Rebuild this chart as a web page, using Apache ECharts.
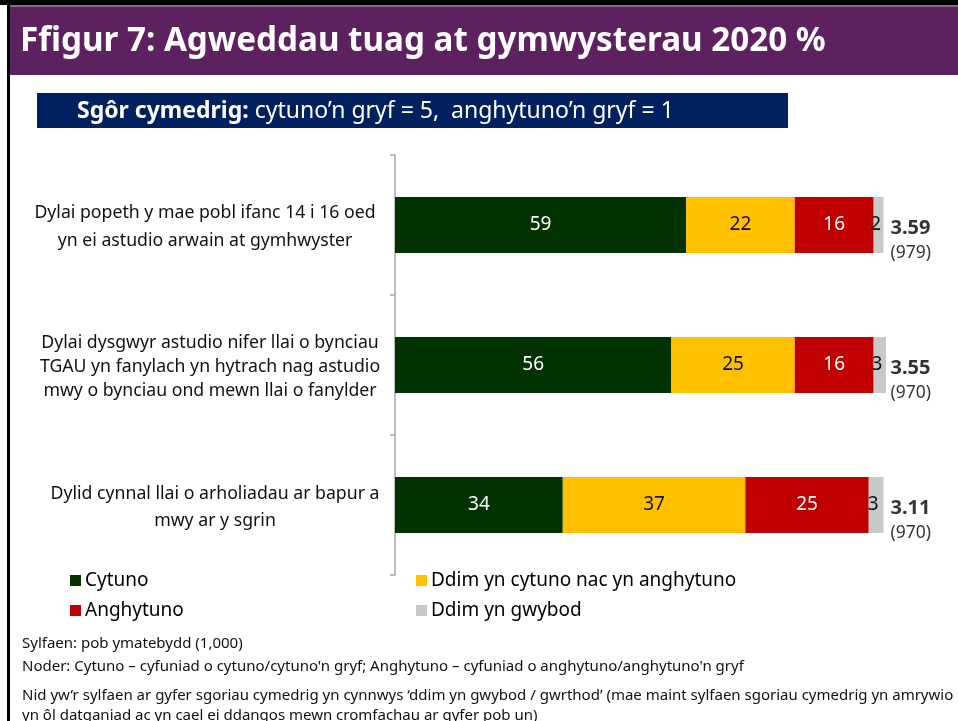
<!DOCTYPE html>
<html>
<head>
<meta charset="utf-8">
<script src="https://cdn.jsdelivr.net/npm/echarts@6/dist/echarts.min.js"></script>
<style>html,body{margin:0;padding:0;background:#fff}#c{width:958px;height:721px}</style>
</head>
<body>
<div id="c"></div>
<script>
var categories = [
  "Dylai popeth y mae pobl ifanc 14 i 16 oed\nyn ei astudio arwain at gymhwyster",
  "Dylai dysgwyr astudio nifer llai o bynciau\nTGAU yn fanylach yn hytrach nag astudio\nmwy o bynciau ond mewn llai o fanylder",
  "Dylid cynnal llai o arholiadau ar bapur a\nmwy ar y sgrin"
];
var seriesNames = ["Cytuno", "Ddim yn cytuno nac yn anghytuno", "Anghytuno", "Ddim yn gwybod"];
var cytuno = [59, 56, 34];
var ddimCytunoNacAnghytuno = [22, 25, 37];
var anghytuno = [16, 16, 25];
var ddimGwybod = [2, 3, 3];
var meanScores = ["3.59", "3.55", "3.11"];
var baseSizes = ["(979)", "(970)", "(970)"];
var colors = ["#033303", "#FFC000", "#C00000", "#C9C9C9"];
var labelColors = ["#ffffff", "#111111", "#ffffff", "#111111"];
var title = "Ffigur 7: Agweddau tuag at gymwysterau 2020 %";
var footnotes = [
  "Sylfaen: pob ymatebydd (1,000)",
  "Noder: Cytuno \u2013 cyfuniad o cytuno/cytuno'n gryf; Anghytuno \u2013 cyfuniad o anghytuno/anghytuno'n gryf",
  "Nid yw\u2019r sylfaen ar gyfer sgoriau cymedrig yn cynnwys \u2018ddim yn gwybod / gwrthod\u2019 (mae maint sylfaen sgoriau cymedrig yn amrywio",
  "yn \u00f4l datganiad ac yn cael ei ddangos mewn cromfachau ar gyfer pob un)"
];
var X_MAX = 99.5;

var FONT = "'Noto Sans', 'Open Sans', sans-serif";
var chart = echarts.init(document.getElementById('c'), null, {renderer: 'canvas'});
var values = [cytuno, ddimCytunoNacAnghytuno, anghytuno, ddimGwybod];

var series = seriesNames.map(function (name, i) {
  return {
    name: name,
    type: 'bar',
    stack: 'total',
    barWidth: '40%',
    itemStyle: {color: colors[i]},
    label: {
      show: true,
      position: 'inside',
      offset: i === 3 ? [-3, 0] : [0, 0],
      color: labelColors[i],
      fontSize: 19,
      fontFamily: FONT,
      formatter: '{c}'
    },
    data: values[i]
  };
});
series.push({
  name: 'mean',
  type: 'scatter',
  symbolSize: 1,
  clip: false,
  itemStyle: {color: 'rgba(0,0,0,0)'},
  silent: true,
  label: {
    show: true,
    position: 'right',
    distance: 4,
    offset: [0, 15],
    align: 'left',
    fontFamily: FONT,
    formatter: function (p) {
      return '{a|' + meanScores[p.dataIndex] + '}\n{b|' + baseSizes[p.dataIndex] + '}';
    },
    rich: {
      a: {fontSize: 20, fontWeight: 'bold', color: '#000', fontFamily: FONT, lineHeight: 26},
      b: {fontSize: 17.5, color: '#000', fontFamily: FONT, lineHeight: 24}
    }
  },
  data: categories.map(function (c, i) { return [X_MAX, i]; })
});

var legendPos = [[65, 566], [411, 566], [65, 596], [411, 596]];
var legends = seriesNames.map(function (n, i) {
  return {
    data: [n],
    left: legendPos[i][0],
    top: legendPos[i][1],
    icon: 'rect',
    itemWidth: 11,
    itemHeight: 11,
    itemGap: 0,
    selectedMode: false,
    textStyle: {fontSize: 19, color: '#000', fontFamily: FONT, padding: [0, 0, 0, -1]}
  };
});

var graphics = [
  {type: 'rect', shape: {x: 0, y: 0, width: 958, height: 5}, style: {fill: '#000'}},
  {type: 'rect', shape: {x: 7, y: 0, width: 3, height: 721}, style: {fill: '#000'}},
  {type: 'rect', shape: {x: 10, y: 5, width: 948, height: 70}, style: {fill: '#5E2160'}},
  {type: 'rect', shape: {x: 10, y: 5, width: 948, height: 2}, style: {fill: '#8A6A8C'}},
  {type: 'text', x: 20, y: 42, style: {text: title, fill: '#fff', font: "bold 33.2px " + FONT, textVerticalAlign: 'middle'}},
  {type: 'rect', shape: {x: 37, y: 93, width: 751, height: 35}, style: {fill: '#002060'}},
  {type: 'text', x: 77, y: 111, style: {
    text: '{b|Sg\u00f4r cymedrig:}{r| cytuno\u2019n gryf = 5,  anghytuno\u2019n gryf = 1}',
    textVerticalAlign: 'middle',
    rich: {
      b: {fontSize: 23, fontWeight: 'bold', fill: '#fff', fontFamily: FONT},
      r: {fontSize: 23, fill: '#fff', fontFamily: FONT}
    }
  }}
];
var footY = [644, 667, 696, 716];
footnotes.forEach(function (t, i) {
  graphics.push({type: 'text', x: 22, y: footY[i], style: {text: t, fill: '#111', font: "15px " + FONT, textVerticalAlign: 'middle'}});
});

var labelRich = {
  r0: {fontSize: 17.7, lineHeight: 28, color: '#111', fontFamily: FONT, padding: [4, 20, 0, 0]},
  r1: {fontSize: 17.7, lineHeight: 24, color: '#111', fontFamily: FONT, padding: [3, 10, 0, 0]},
  r2: {fontSize: 17.7, lineHeight: 27, color: '#111', fontFamily: FONT, padding: [4, 0, 0, 0]}
};

chart.setOption({
  animation: false,
  backgroundColor: '#fff',
  grid: {left: 395, right: 72, top: 155, height: 420, containLabel: false},
  xAxis: {type: 'value', min: 0, max: X_MAX, show: false},
  yAxis: {
    type: 'category',
    inverse: true,
    data: categories,
    axisLine: {show: true, lineStyle: {color: '#A6A6A6', width: 1.5}},
    axisTick: {show: true, length: 5, lineStyle: {color: '#A6A6A6', width: 1.5}},
    axisLabel: {
      align: 'center',
      margin: 180,
      color: '#111',
      fontFamily: FONT,
      formatter: function (v, idx) {
        return v.split('\n').map(function (l) { return '{r' + idx + '|' + l + '}'; }).join('\n');
      },
      rich: labelRich
    }
  },
  legend: legends,
  series: series,
  graphic: graphics
});
</script>
</body>
</html>
